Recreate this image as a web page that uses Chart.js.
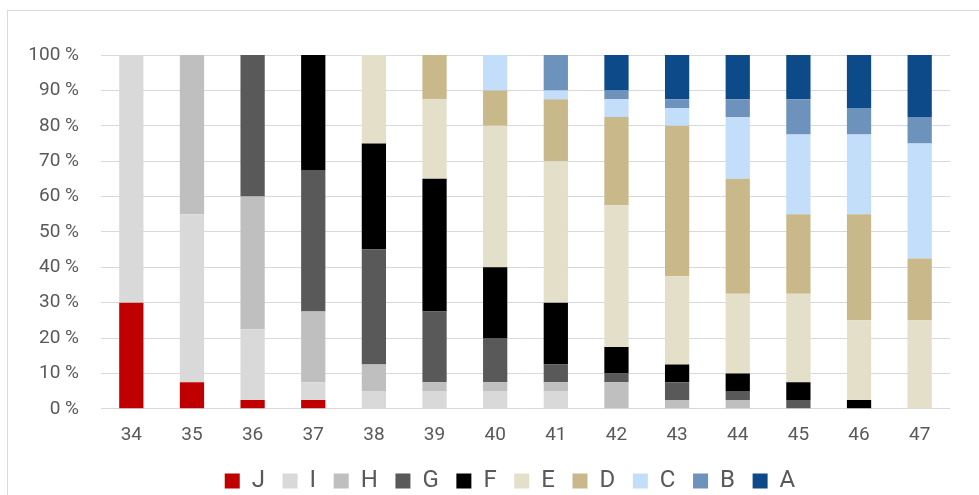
<!DOCTYPE html>
<html>
<head>
<meta charset="utf-8">
<script src="https://cdn.jsdelivr.net/npm/chart.js@4/dist/chart.umd.min.js"></script>
<style>
  html, body { margin: 0; padding: 0; background: #ffffff; }
  #wrap { position: relative; width: 979px; height: 495px; overflow: hidden; }
  #frame { position: absolute; left: 7px; top: 10px; width: 990px; height: 500px;
           border: 1px solid #d9d9d9; box-sizing: border-box; pointer-events: none; }
  canvas { position: absolute; left: 0; top: 0; }
</style>
</head>
<body>
<div id="wrap">
  <canvas id="chart" width="979" height="503"></canvas>
  <div id="frame"></div>
</div>
<script>
// Categories along the x axis
const categories = ['34', '35', '36', '37', '38', '39', '40', '41', '42', '43', '44', '45', '46', '47'];

// Share of each group per category (percent), stacked bottom to top J..A
const seriesJ = [30, 7.5, 2.5, 2.5, 0, 0, 0, 0, 0, 0, 0, 0, 0, 0];
const seriesI = [70, 47.5, 20, 5, 5, 5, 5, 5, 0, 0, 0, 0, 0, 0];
const seriesH = [0, 45, 37.5, 20, 7.5, 2.5, 2.5, 2.5, 7.5, 2.5, 2.5, 0, 0, 0];
const seriesG = [0, 0, 40, 40, 32.5, 20, 12.5, 5, 2.5, 5, 2.5, 2.5, 0, 0];
const seriesF = [0, 0, 0, 32.5, 30, 37.5, 20, 17.5, 7.5, 5, 5, 5, 2.5, 0];
const seriesE = [0, 0, 0, 0, 25, 22.5, 40, 40, 40, 25, 22.5, 25, 22.5, 25];
const seriesD = [0, 0, 0, 0, 0, 12.5, 10, 17.5, 25, 42.5, 32.5, 22.5, 30, 17.5];
const seriesC = [0, 0, 0, 0, 0, 0, 10, 2.5, 5, 5, 17.5, 22.5, 22.5, 32.5];
const seriesB = [0, 0, 0, 0, 0, 0, 0, 10, 2.5, 2.5, 5, 10, 7.5, 7.5];
const seriesA = [0, 0, 0, 0, 0, 0, 0, 0, 10, 12.5, 12.5, 12.5, 15, 17.5];

// Y axis tick values
const yTicks = [0, 10, 20, 30, 40, 50, 60, 70, 80, 90, 100];

const seriesNames = ['J', 'I', 'H', 'G', 'F', 'E', 'D', 'C', 'B', 'A'];
const seriesValues = [seriesJ, seriesI, seriesH, seriesG, seriesF, seriesE, seriesD, seriesC, seriesB, seriesA];
const seriesColors = ['#c00000', '#d9d9d9', '#bfbfbf', '#595959', '#000000',
                      '#e3dfc8', '#c8b88a', '#c3defa', '#6d92bb', '#0d4a89'];

const FONT = 'Roboto, "Liberation Sans", sans-serif';
const TEXT = '#595959';

const datasets = seriesNames.map((name, i) => ({
  label: name,
  data: seriesValues[i].map(v => (v === 0 ? null : v)),
  backgroundColor: seriesColors[i],
  borderWidth: 0,
  categoryPercentage: 1.0,
  barPercentage: 0.4
}));

// Nudge the legend row to the right of the default centred position
const legendShift = {
  id: 'legendShift',
  afterLayout(chart) {
    const lg = chart.legend;
    if (lg) { lg.left += 25; lg.right += 25; }
  }
};

new Chart(document.getElementById('chart'), {
  type: 'bar',
  data: { labels: categories, datasets },
  plugins: [legendShift],
  options: {
    responsive: false,
    animation: false,
    layout: { padding: { left: 20, right: 29, top: 55, bottom: 0 } },
    plugins: {
      tooltip: { enabled: false },
      legend: {
        position: 'bottom',
        labels: {
          color: TEXT,
          font: { family: FONT, size: 24 },
          boxWidth: 15,
          boxHeight: 15,
          padding: 17.6
        }
      }
    },
    scales: {
      x: {
        stacked: true,
        grid: { display: false, drawTicks: false },
        border: { display: false },
        ticks: { color: TEXT, font: { family: FONT, size: 19 }, padding: 14.6 },
        afterFit: s => { s.height = 42.6; }
      },
      y: {
        stacked: true,
        min: 0,
        max: 100,
        afterBuildTicks: s => { s.ticks = yTicks.map(v => ({ value: v })); },
        grid: { color: '#d9d9d9', lineWidth: 1, drawTicks: false },
        border: { display: false },
        ticks: {
          color: TEXT,
          font: { family: FONT, size: 19 },
          padding: 22,
          callback: v => v + ' %'
        },
        afterFit: s => { s.width = 81; }
      }
    }
  }
});
</script>
</body>
</html>
